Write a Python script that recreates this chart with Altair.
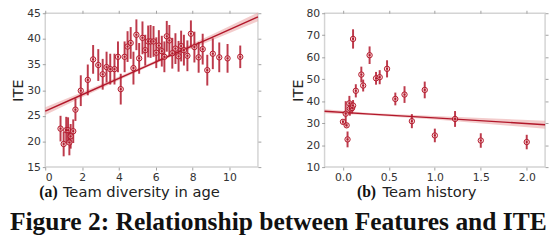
import altair as alt
import pandas as pd

# ---------- data (a) Team diversity in age ----------
a_x = [0.83, 1.0, 1.14, 1.24, 1.31, 1.38, 1.52, 1.64, 1.93, 2.31,
       2.6, 2.88, 3.12, 3.33, 3.53, 3.76, 3.95, 4.1, 4.31, 4.47,
       4.64, 4.79, 4.95, 5.1, 5.28, 5.43, 5.59, 5.72, 5.88, 6.03,
       6.17, 6.33, 6.47, 6.6, 6.74, 6.9, 7.07, 7.24, 7.38, 7.53,
       7.72, 7.91, 8.1, 8.33, 8.55, 8.8, 9.1, 9.45, 9.9, 10.59]
a_y = [22.5, 19.5, 22.2, 22.2, 19.8, 21.0, 22.0, 26.2, 29.9, 32.0,
       36.0, 34.9, 33.1, 34.5, 34.1, 34.1, 36.5, 30.2, 36.5, 38.5,
       39.2, 34.3, 40.8, 36.2, 40.2, 37.8, 39.5, 39.5, 39.5, 37.3,
       38.7, 37.6, 36.5, 40.5, 39.7, 37.2, 38.1, 36.6, 38.6, 37.8,
       36.7, 41.0, 38.4, 36.4, 38.0, 33.9, 37.1, 36.4, 36.2, 36.5]
a_err = [2.5, 2.4, 2.6, 2.5, 2.5, 2.4, 2.3, 2.2, 3.0, 3.0,
         2.8, 3.1, 3.0, 3.0, 3.0, 3.0, 3.0, 3.0, 3.0, 3.0,
         3.1, 3.2, 3.0, 3.0, 3.2, 3.0, 3.1, 3.2, 3.0, 3.0,
         3.0, 3.0, 3.0, 3.0, 3.0, 3.0, 3.0, 3.0, 3.0, 3.0,
         3.0, 2.6, 3.0, 3.0, 3.0, 3.0, 3.0, 2.9, 2.8, 2.2]
a_fit_x = [0.0, 2.0, 4.0, 5.5, 7.0, 9.0, 11.55]
a_fit_y = [25.9, 29.1, 32.3, 34.7, 37.1, 40.2, 44.3]
a_fit_lo = [25.15, 28.6, 31.95, 34.4, 36.75, 39.65, 43.45]
a_fit_hi = [26.65, 29.6, 32.65, 35.0, 37.45, 40.75, 45.15]

# ---------- data (b) Team history ----------
b_x = [0.0, 0.03, 0.04, 0.05, 0.07, 0.075, 0.1, 0.11, 0.11, 0.14,
       0.2, 0.22, 0.29, 0.36, 0.4, 0.48, 0.57, 0.67, 0.75, 0.89,
       1.0, 1.22, 1.5, 2.0]
b_y = [30.6, 34.3, 29.0, 22.6, 39.0, 36.6, 36.9, 38.0, 68.3, 44.7,
       52.1, 47.1, 60.9, 50.4, 50.9, 54.7, 41.0, 43.0, 30.9, 45.1,
       24.4, 31.9, 22.1, 21.4]
b_err = [1.0, 5.7, 1.0, 3.6, 3.4, 3.2, 2.5, 2.5, 4.4, 3.0,
         3.6, 2.7, 4.0, 2.9, 3.2, 3.9, 2.9, 3.8, 3.2, 3.8,
         3.1, 3.6, 3.3, 3.3]
b_fit_x = [-0.2, 0.3, 1.0, 2.2]
b_fit_y = [35.4, 34.1, 32.4, 29.3]
b_fit_lo = [34.5, 33.6, 31.6, 27.5]
b_fit_hi = [36.3, 34.6, 33.2, 31.1]

RED = "#b2182b"
BAND = "#e9a3a3"
SANS = "DejaVu Sans"
SERIF = "Liberation Serif"


def panel(xs, ys, errs, fx, fy, flo, fhi, xdom, ydom, xticks, yticks, xfmt,
          w, h, sub_tag, sub_text, tag_x, text_x, extra=None):
    pts = pd.DataFrame({"x": xs, "y": ys,
                        "lo": [v - e for v, e in zip(ys, errs)],
                        "hi": [v + e for v, e in zip(ys, errs)]})
    fit = pd.DataFrame({"x": fx, "y": fy, "lo": flo, "hi": fhi})
    xs_ = alt.Scale(domain=xdom, nice=False, zero=False)
    ys_ = alt.Scale(domain=ydom, nice=False, zero=False)

    ax_common = dict(grid=False, domain=False, tickColor="#a0a0a0", tickSize=3,
                     tickWidth=1, labelColor="#333333", labelFont=SANS,
                     labelFontSize=11)
    x_bottom = alt.Axis(orient="bottom", values=xticks, format=xfmt,
                        labelPadding=2, title=None, **ax_common)
    y_left = alt.Axis(orient="left", values=yticks, labelPadding=2, title="ITE",
                      titleFont=SANS, titleFontSize=15, titleFontWeight="normal",
                      titleColor="#222222", titlePadding=1, **ax_common)
    x_top = alt.Axis(orient="top", values=xticks, labels=False, title=None,
                     **ax_common)
    y_right = alt.Axis(orient="right", values=yticks, labels=False, title=None,
                       **ax_common)

    band = alt.Chart(fit).mark_area(color=BAND, opacity=0.55).encode(
        x=alt.X("x:Q", scale=xs_, axis=None),
        y=alt.Y("lo:Q", scale=ys_, axis=None),
        y2="hi:Q")
    line = alt.Chart(fit).mark_line(color=RED, strokeWidth=1.5).encode(
        x=alt.X("x:Q", scale=xs_, axis=None),
        y=alt.Y("y:Q", scale=ys_, axis=None))
    bars = alt.Chart(pts).mark_rule(color=RED, strokeWidth=2, opacity=0.85).encode(
        x=alt.X("x:Q", scale=xs_, axis=x_bottom),
        y=alt.Y("lo:Q", scale=ys_, axis=y_left),
        y2="hi:Q")
    rings = alt.Chart(pts).mark_circle(size=30, fill="#f0c4c4", fillOpacity=0.45,
                                       stroke=RED, strokeWidth=1).encode(
        x=alt.X("x:Q", scale=xs_, axis=x_top),
        y=alt.Y("y:Q", scale=ys_, axis=y_right))
    dots = alt.Chart(pts).mark_circle(size=5, color=RED, opacity=1).encode(
        x=alt.X("x:Q", scale=xs_, axis=None),
        y=alt.Y("y:Q", scale=ys_, axis=None))
    one = alt.Data(values=[{"k": 1}])
    tag = alt.Chart(one).mark_text(text=sub_tag, font=SERIF, fontWeight="bold",
                                   fontSize=16, color="#111111", align="left",
                                   baseline="alphabetic").encode(
        x=alt.value(tag_x), y=alt.value(h + 31))
    txt = alt.Chart(one).mark_text(text=sub_text, font=SANS, fontSize=15,
                                   color="#222222", align="left",
                                   baseline="alphabetic").encode(
        x=alt.value(text_x), y=alt.value(h + 31))
    layers = [band, line, bars, rings, dots, tag, txt]
    if extra is not None:
        layers.append(extra)
    return alt.layer(*layers).resolve_axis(x="independent", y="independent").properties(
        width=w, height=h)


H = 157
caption = alt.Chart(alt.Data(values=[{"k": 1}])).mark_text(
    text="Figure 2: Relationship between Features and ITE", font=SERIF,
    fontWeight="bold", fontSize=26, color="#111111", align="left",
    baseline="alphabetic").encode(x=alt.value(-36), y=alt.value(H + 64))

left = panel(a_x, a_y, a_err, a_fit_x, a_fit_y, a_fit_lo, a_fit_hi,
             [0, 11.55], [15, 45], [0, 2, 4, 6, 8, 10], [15, 20, 25, 30, 35, 40, 45],
             "d", 217, H, "(a)", "Team diversity in age", -6, 18, extra=caption)
right = panel(b_x, b_y, b_err, b_fit_x, b_fit_y, b_fit_lo, b_fit_hi,
              [-0.2, 2.2], [10, 80], [0.0, 0.5, 1.0, 1.5, 2.0],
              [10, 20, 30, 40, 50, 60, 70, 80], ".1f", 225, H,
              "(b)", "Team history", 33, 59)

chart = alt.hconcat(left, right, spacing=68, bounds="flush",
                    padding={"left": 1, "top": -4, "right": 0, "bottom": 0}).configure_view(
    stroke="#d4d4d4", strokeWidth=1.5)

chart.save("out.html", embed_options={"renderer": "svg", "actions": False})
